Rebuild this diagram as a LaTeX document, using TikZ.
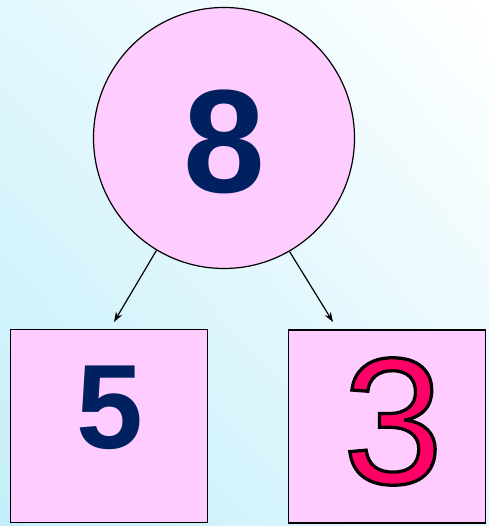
\documentclass[tikz,border=0pt]{standalone}
\usepackage{xcolor}
\usepackage{fontspec}
\setmainfont{Liberation Sans}
\newfontfamily\outlinefont[FakeBold=1.8]{Liberation Sans}
\usetikzlibrary{arrows.meta,shadings}
\definecolor{boxpink}{RGB}{255,204,255}
\definecolor{numnavy}{RGB}{0,32,96}
\definecolor{numred}{RGB}{255,0,102}
\definecolor{skycyan}{RGB}{196,238,250}
\definecolor{skymid}{RGB}{226,248,253}
\tikzset{
  partbox/.style={draw=black,line width=1.5pt,fill=boxpink,minimum width=197pt,minimum height=193pt,inner sep=0pt},
  wholecircle/.style={circle,draw=black,line width=1.2pt,fill=boxpink,minimum size=261pt,inner sep=0pt},
  splitarrow/.style={-{Stealth[length=10pt,width=7pt]},line width=1.2pt}
}

\begin{document}
\begin{tikzpicture}[x=1pt,y=1pt]
\shade[lower left=skycyan,upper right=white,upper left=skymid,lower right=skymid] (0,0) rectangle (489,526);
\useasboundingbox (0,0) rectangle (489,526);
\node[wholecircle] (whole) at (224,388) {};
\node[partbox] (left) at (109,100) {};
\node[partbox] (right) at (387,99.5) {};
\node[text=numnavy,inner sep=0pt] (eight) at (224,384) {\fontsize{147}{150}\selectfont\bfseries 8};
\node[text=numnavy,inner sep=0pt] (five) at (109.5,118) {\fontsize{120}{124}\selectfont\bfseries 5};
\node[text=numred,inner sep=0pt] (three) at (393,104.5) {\special{pdf:literal direct 0 0 0 RG}\outlinefont\fontsize{180}{184}\selectfont 3};
\coordinate (lefttip) at (114,204);
\coordinate (righttip) at (333,204);
\draw[splitarrow] (whole.239.7) -- (lefttip);
\draw[splitarrow] (whole.300.3) -- (righttip);
\end{tikzpicture}
\end{document}
